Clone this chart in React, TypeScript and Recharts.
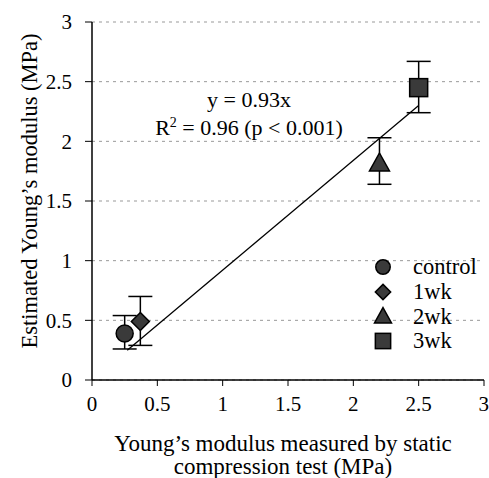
import React from 'react'
import { ComposedChart, Scatter, XAxis, YAxis, CartesianGrid, ErrorBar } from 'recharts'

// values (MPa)
const groups = ['control', '1wk', '2wk', '3wk']
const staticModulus = [0.25, 0.37, 2.2, 2.5]
const estimatedModulus = [0.39, 0.49, 1.81, 2.45]
const errLow = [0.13, 0.2, 0.17, 0.21]
const errHigh = [0.15, 0.21, 0.22, 0.22]
const trendX = [0.27, 2.5]
const trendY = [0.25, 2.3]
const axisTicks = [0, 0.5, 1, 1.5, 2, 2.5, 3]

const font = 'Liberation Serif'
const markerFill = '#3a3a3a'

function Marker({ kind, cx, cy, small }: { kind: string; cx: number; cy: number; small?: boolean }) {
  const s = small ? 0.85 : 1
  if (kind === 'control') return <circle cx={cx} cy={cy} r={8.5 * s} fill={markerFill} stroke="#000" strokeWidth={1.5} />
  if (kind === '1wk')
    return (
      <polygon
        points={`${cx},${cy - 9 * s} ${cx + 9 * s},${cy} ${cx},${cy + 9 * s} ${cx - 9 * s},${cy}`}
        fill={markerFill}
        stroke="#000"
        strokeWidth={1.5}
      />
    )
  if (kind === '2wk')
    return (
      <polygon
        points={`${cx},${cy - 11 * s} ${cx + 10 * s},${cy + 7 * s} ${cx - 10 * s},${cy + 7 * s}`}
        fill={markerFill}
        stroke="#000"
        strokeWidth={1.5}
      />
    )
  return <rect x={cx - 9 * s} y={cy - 9 * s} width={18 * s} height={18 * s} fill={markerFill} stroke="#000" strokeWidth={1.5} />
}

const trendData = trendX.map((x, i) => ({ x, y: trendY[i] }))

function LegendBox() {
  return (
    <div style={{ position: 'absolute', left: 371, top: 255, fontFamily: font, fontSize: 22.5, color: '#000' }}>
      {groups.map((g) => (
        <div key={g} style={{ display: 'flex', alignItems: 'center', height: 24.7 }}>
          <svg width={24} height={24}>
            <Marker kind={g} cx={12} cy={12} small />
          </svg>
          <span style={{ marginLeft: 18 }}>{g}</span>
        </div>
      ))}
    </div>
  )
}

export default function App() {
  return (
    <div style={{ position: 'absolute', left: 0, top: 0, width: 489, height: 478, background: '#fff', fontFamily: font }}>
      <ComposedChart width={489} height={478} margin={{ top: 22, right: 5, left: 0, bottom: 0 }}>
        <CartesianGrid horizontal vertical={false} stroke="#999" strokeDasharray="3 4" />
        <XAxis
          type="number"
          dataKey="x"
          domain={[0, 3]}
          ticks={axisTicks}
          height={98}
          tickSize={6}
          tickMargin={10}
          axisLine={{ stroke: '#000', strokeWidth: 1.5 }}
          tickLine={{ stroke: '#000' }}
          tick={{ fill: '#000', fontSize: 21, fontFamily: font }}
          fontSize={21}
          fontFamily={font}
          allowDataOverflow
        />
        <YAxis
          type="number"
          dataKey="y"
          domain={[0, 3]}
          ticks={axisTicks}
          width={92}
          tickSize={7}
          tickMargin={13}
          axisLine={{ stroke: '#000', strokeWidth: 1.5 }}
          tickLine={{ stroke: '#000' }}
          tick={{ fill: '#000', fontSize: 21, fontFamily: font }}
          fontSize={21}
          fontFamily={font}
        />
        <Scatter data={trendData} line={{ stroke: '#000', strokeWidth: 1.3 }} shape={() => null} isAnimationActive={false} legendType="none" />
        {groups.map((g, i) => (
          <Scatter
            key={g}
            name={g}
            data={[{ x: staticModulus[i], y: estimatedModulus[i], err: [errLow[i], errHigh[i]] }]}
            shape={(p: any) => <Marker kind={g} cx={p.cx} cy={p.cy} />}
            isAnimationActive={false}
          >
            <ErrorBar dataKey="err" direction="y" width={12} stroke="#000" strokeWidth={1.5} />
          </Scatter>
        ))}
      </ComposedChart>
      <LegendBox />
      <div style={{ position: 'absolute', left: 119, top: 86, width: 260, textAlign: 'center', fontSize: 22, lineHeight: '28px' }}>
        y = 0.93x
        <br />
        R<sup style={{ fontSize: 14, verticalAlign: 'top', lineHeight: '18px' }}>2</sup> = 0.96 (p &lt; 0.001)
      </div>
      <div
        style={{
          position: 'absolute',
          left: 30,
          top: 191,
          transform: 'translate(-50%, -50%) rotate(-90deg)',
          whiteSpace: 'nowrap',
          fontSize: 22.5,
          lineHeight: '26px',
        }}
      >
        Estimated Young’s modulus (MPa)
      </div>
      <div style={{ position: 'absolute', left: 83, top: 432, width: 400, textAlign: 'center', fontSize: 23, lineHeight: '23px', whiteSpace: 'nowrap' }}>
        Young’s modulus measured by static
        <br />
        compression test (MPa)
      </div>
    </div>
  )
}
